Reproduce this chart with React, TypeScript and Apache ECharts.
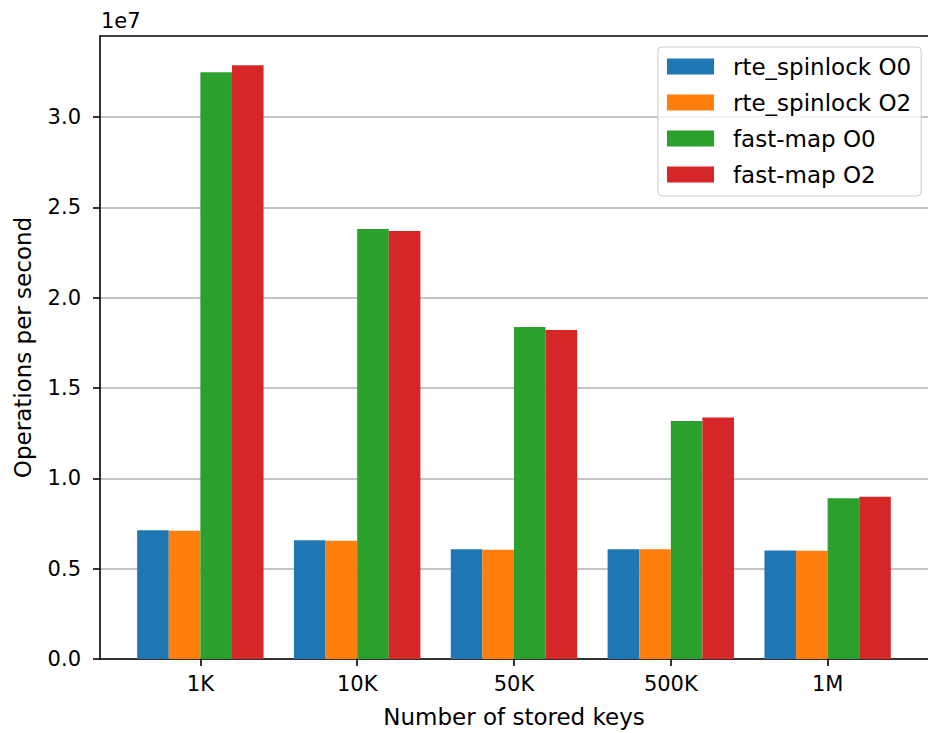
import React, { useEffect, useRef } from "react";
import * as echarts from "echarts";

const categories = ["1K", "10K", "50K", "500K", "1M"];
const seriesNames = ["rte_spinlock O0", "rte_spinlock O2", "fast-map O0", "fast-map O2"];
const rteO0 = [7.12e6, 6.57e6, 6.07e6, 6.07e6, 6.0e6];
const rteO2 = [7.1e6, 6.55e6, 6.05e6, 6.07e6, 5.99e6];
const fastO0 = [3.247e7, 2.38e7, 1.838e7, 1.317e7, 8.89e6];
const fastO2 = [3.286e7, 2.369e7, 1.821e7, 1.336e7, 8.98e6];
const yTicks = [0, 5e6, 1e7, 1.5e7, 2e7, 2.5e7, 3e7];
const xTicks = [0, 1, 2, 3, 4];
const colors = ["#1f77b4", "#ff7f0e", "#2ca02c", "#d62728"];

const FONT = "DejaVu Sans";

export default function App() {
  const ref = useRef<HTMLDivElement>(null);
  useEffect(() => {
    if (!ref.current) return;
    const chart = echarts.init(ref.current, null, { renderer: "svg" });
    const values = [rteO0, rteO2, fastO0, fastO2];
    chart.setOption({
      animation: false,
      grid: { left: 100, top: 36, width: 834, height: 623, containLabel: false },
      xAxis: [
        {
          type: "value",
          position: "bottom",
          min: -0.64,
          max: 4.64,
          axisLine: { show: true, onZero: false, lineStyle: { color: "#000", width: 1.6 } },
          axisTick: { show: true, length: 7, customValues: xTicks, lineStyle: { color: "#000", width: 1.6 } },
          axisLabel: {
            show: true,
            customValues: xTicks,
            formatter: (v: number) => categories[Math.round(v)] ?? "",
            fontFamily: FONT,
            fontSize: 21,
            color: "#000",
            margin: 14,
          },
          splitLine: { show: false },
          name: "Number of stored keys",
          nameLocation: "middle",
          nameGap: 46,
          nameTextStyle: { fontFamily: FONT, fontSize: 23, color: "#000" },
        },
        {
          type: "value",
          position: "top",
          min: -0.64,
          max: 4.64,
          axisLine: { show: true, onZero: false, lineStyle: { color: "#000", width: 1.6 } },
          axisTick: { show: false },
          axisLabel: { show: false },
          splitLine: { show: false },
        },
      ],
      yAxis: {
        type: "value",
        position: "left",
        min: 0,
        max: 3.448e7,
        interval: 5e6,
        axisLine: { show: true, onZero: false, lineStyle: { color: "#000", width: 1.6 } },
        axisTick: { show: true, length: 7, customValues: yTicks, lineStyle: { color: "#000", width: 1.6 } },
        axisLabel: {
          customValues: yTicks,
          formatter: (v: number) => (v / 1e7).toFixed(1),
          fontFamily: FONT,
          fontSize: 21,
          color: "#000",
          margin: 19,
        },
        splitLine: { show: true, lineStyle: { color: "#b0b0b0", width: 1.6 } },
        name: "Operations per second",
        nameLocation: "middle",
        nameGap: 66,
        nameTextStyle: { fontFamily: FONT, fontSize: 23, color: "#000" },
      },
      legend: {
        orient: "vertical",
        left: 658,
        top: 47,
        padding: [8, 10, 10, 9],
        itemWidth: 47,
        itemHeight: 16,
        itemGap: 13,
        backgroundColor: "rgba(255,255,255,0.8)",
        borderColor: "#cccccc",
        borderWidth: 1,
        borderRadius: 4,
        icon: "rect",
        textStyle: { fontFamily: FONT, fontSize: 23, color: "#000", lineHeight: 16, padding: [0, 0, 0, 14] },
        data: seriesNames,
      },
      graphic: [
        {
          type: "text",
          left: 101,
          top: 10,
          style: { text: "1e7", fontFamily: FONT, fontSize: 21, fill: "#000" },
        },
      ],
      series: seriesNames.map((name, si) => ({
        name,
        type: "bar",
        xAxisIndex: 0,
        barWidth: 31.6,
        barGap: "0%",
        itemStyle: { color: colors[si] },
        data: values[si].map((v, i) => [i, v]),
      })),
    });
    return () => chart.dispose();
  }, []);
  return <div ref={ref} style={{ position: "absolute", left: 0, top: 0, width: 928, height: 733 }} />;
}
